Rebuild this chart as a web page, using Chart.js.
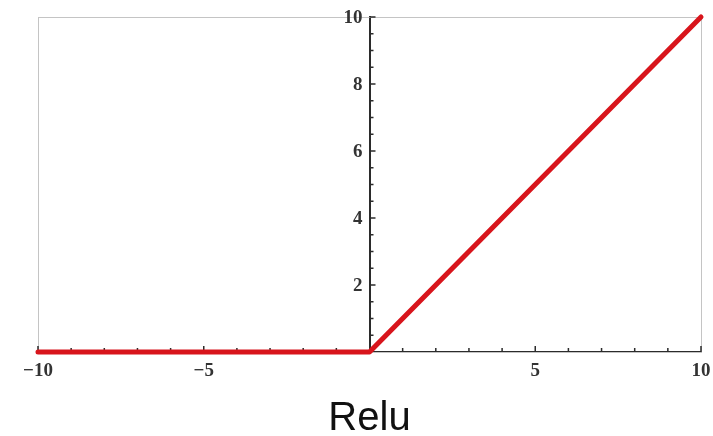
<!DOCTYPE html>
<html>
<head>
<meta charset="utf-8">
<script src="https://cdn.jsdelivr.net/npm/chart.js@4.4.1/dist/chart.umd.min.js"></script>
<style>
  html, body { margin: 0; padding: 0; background: #fff; }
  #wrap { width: 713px; height: 436px; }
</style>
</head>
<body>
<div id="wrap"><canvas id="c" width="713" height="436"></canvas></div>
<script>
// ReLU curve: f(x) = max(0, x), sampled at its corners
const xValues = [-10, 0, 10];
const reluValues = [0, 0, 10];

// axis ticks
const xLabelTicks = [-10, -5, 5, 10];
const xMinorTicks = [-10, -9, -8, -7, -6, -5, -4, -3, -2, -1, 1, 2, 3, 4, 5, 6, 7, 8, 9, 10];
const yLabelTicks = [2, 4, 6, 8, 10];
const yMinorTicks = [0.5, 1, 1.5, 2, 2.5, 3, 3.5, 4, 4.5, 5, 5.5, 6, 6.5, 7, 7.5, 8, 8.5, 9, 9.5, 10];

const AXIS = "#2b2b2b", FRAME = "#c4c4c4", RED = "#d8151c", LABEL = "#333";
const tickFont = { family: "'Liberation Serif', 'DejaVu Serif', serif", size: 19, weight: "bold" };

// frame box, inward tick marks along the zero axes, and y labels left of x = 0
const framePlugin = {
  id: "frame",
  beforeDatasetsDraw(chart) {
    const { ctx, chartArea: a, scales: { x, y } } = chart;
    ctx.save();
    ctx.strokeStyle = FRAME;
    ctx.lineWidth = 1;
    ctx.strokeRect(a.left + 0.5, a.top + 0.5, a.right - a.left, a.bottom - a.top);

    const y0 = y.getPixelForValue(0), x0 = x.getPixelForValue(0);
    ctx.strokeStyle = AXIS;
    ctx.lineWidth = 1.5;
    ctx.beginPath();
    xMinorTicks.forEach(v => {
      const px = x.getPixelForValue(v);
      const len = xLabelTicks.includes(v) ? 6 : 4;
      ctx.moveTo(px, y0); ctx.lineTo(px, y0 - len);
    });
    yMinorTicks.forEach(v => {
      const py = y.getPixelForValue(v);
      const len = yLabelTicks.includes(v) ? 6 : 4;
      ctx.moveTo(x0, py); ctx.lineTo(x0 + len, py);
    });
    ctx.stroke();

    ctx.fillStyle = LABEL;
    ctx.font = `${tickFont.weight} ${tickFont.size}px ${tickFont.family}`;
    ctx.textAlign = "right";
    ctx.textBaseline = "middle";
    yLabelTicks.forEach(v => ctx.fillText(String(v), x0 - 7, y.getPixelForValue(v) + 1));
    ctx.restore();
  }
};

new Chart(document.getElementById("c"), {
  type: "scatter",
  data: {
    datasets: [{
      data: xValues.map((v, i) => ({ x: v, y: reluValues[i] })),
      showLine: true,
      borderColor: RED,
      borderWidth: 5,
      pointRadius: 0,
      borderCapStyle: "round",
      borderJoinStyle: "round",
      clip: false,
    }]
  },
  options: {
    responsive: false,
    animation: false,
    layout: { padding: { left: 38, right: 12, top: 17, bottom: 0 } },
    plugins: {
      legend: { display: false },
      tooltip: { enabled: false },
      title: {
        display: true,
        text: "Relu",
        position: "bottom",
        color: "#111",
        font: { family: "'Liberation Sans', Arial, sans-serif", size: 40, weight: "normal", lineHeight: 1 },
        padding: { top: 47, bottom: -3 },
      },
    },
    scales: {
      x: {
        type: "linear",
        min: -10, max: 10,
        position: { y: 0 },
        grid: { drawOnChartArea: false, drawTicks: false },
        border: { display: true, color: AXIS, width: 1.5 },
        afterBuildTicks: s => { s.ticks = xLabelTicks.map(v => ({ value: v })); },
        // let the end labels overhang the frame
        afterFit: s => { s.paddingLeft = 0; s.paddingRight = 0; },
        ticks: {
          color: LABEL, font: tickFont, padding: 8, maxRotation: 0, autoSkip: false,
          callback: v => String(v).replace("-", "\u2212"),
        },
      },
      y: {
        type: "linear",
        min: 0, max: 10,
        position: { x: 0 },
        grid: { drawOnChartArea: false, drawTicks: false },
        border: { display: true, color: AXIS, width: 2 },
        ticks: { display: false },
      },
    },
  },
  plugins: [framePlugin],
});
</script>
</body>
</html>
